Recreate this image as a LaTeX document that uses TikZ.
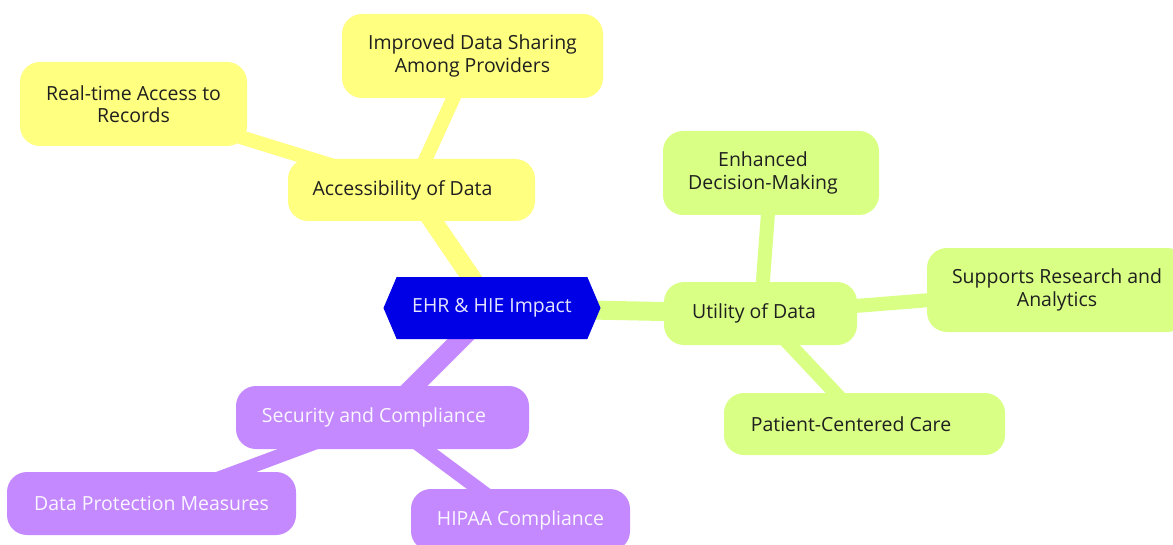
\documentclass[tikz,border=0pt]{standalone}
\usepackage{fontspec}
\setmainfont{Open Sans}
\usetikzlibrary{shapes.symbols,backgrounds}
\definecolor{hubblue}{RGB}{0,0,230}
\definecolor{hubtext}{RGB}{228,228,255}
\definecolor{accyellow}{RGB}{255,255,128}
\definecolor{utilgreen}{RGB}{217,255,133}
\definecolor{secpurple}{RGB}{196,136,255}
\begin{document}
\begin{tikzpicture}[x=0.75pt,y=-0.75pt,
	box/.style={rounded corners=15pt,inner sep=0pt,align=center,
		font=\fontsize{14.6}{16.6}\selectfont,text=black!88},
	sz/.style 2 args={minimum width=#1*0.75pt,minimum height=#2*0.75pt},
	nudge/.style={execute at end node={\hspace*{#1}}},
	yel/.style={box,fill=accyellow},
	grn/.style={box,fill=utilgreen},
	pur/.style={box,fill=secpurple,text=white!92!secpurple},
	mainlink/.style={line width=14.25pt},
	sublink/.style={line width=10.5pt}]
	\useasboundingbox (0,0) rectangle (1173,545);
	% centre
	\node[signal,signal to=west and east,signal pointer angle=134,fill=hubblue,
		text=hubtext,inner sep=0pt,sz={217}{62},font=\fontsize{14.6}{16.6}\selectfont]
		(hub) at (492,308) {EHR \& HIE Impact};
	% accessibility
	\node[yel,sz={247}{62},nudge=13.5pt] (acc) at (411.5,190) {Accessibility of Data};
	\node[yel,sz={227}{84}] (realtime) at (133.5,104) {Real-time Access to\\Records};
	\node[yel,sz={261}{84}] (sharing) at (472.5,56) {Improved Data Sharing\\Among Providers};
	% utility
	\node[grn,sz={193}{63},nudge=9.75pt] (util) at (760.5,313.5) {Utility of Data};
	\node[grn,sz={216}{84}] (decision) at (771,173)
		{Enhanced\hspace*{12pt}\\Decision-Making\hspace*{12pt}};
	\node[grn,sz={260}{84}] (research) at (1057,290) {Supports Research and\\Analytics};
	\node[grn,sz={281}{62},nudge=20.25pt] (patient) at (864.5,424) {Patient-Centered Care};
	% security
	\node[pur,sz={293}{63},nudge=12.75pt] (sec) at (382.5,417.5) {Security and Compliance};
	\node[pur,sz={289}{63}] (protect) at (151.5,503.5) {Data Protection Measures};
	\node[pur,sz={219}{62}] (hipaa) at (520.5,520) {HIPAA Compliance};
	\begin{scope}[on background layer]
		\draw[mainlink,accyellow] (hub.center) -- (acc.center);
		\draw[mainlink,utilgreen] (hub.center) -- (util.center);
		\draw[mainlink,secpurple] (hub.center) -- (sec.center);
		\draw[sublink,accyellow] (acc.center) -- (realtime.center);
		\draw[sublink,accyellow] (acc.center) -- (sharing.center);
		\draw[sublink,utilgreen] (util.center) -- (decision.center);
		\draw[sublink,utilgreen] (util.center) -- (research.center);
		\draw[sublink,utilgreen] (util.center) -- (patient.center);
		\draw[sublink,secpurple] (sec.center) -- (protect.center);
		\draw[sublink,secpurple] (sec.center) -- (hipaa.center);
	\end{scope}
\end{tikzpicture}
\end{document}
